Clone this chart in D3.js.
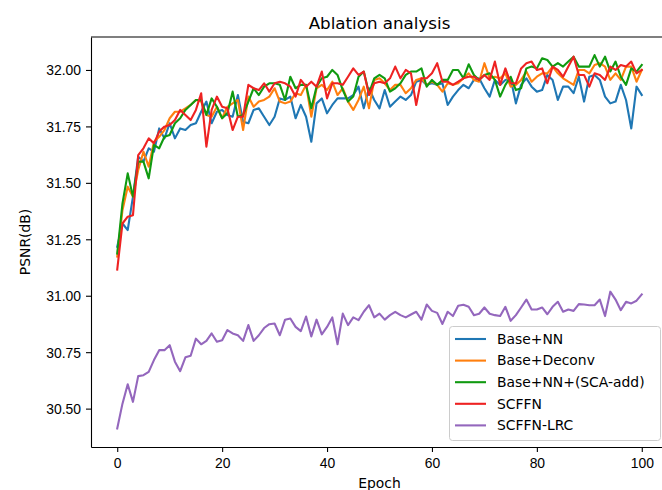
<!doctype html>
<html>
<head>
<meta charset="utf-8">
<title>Ablation analysis</title>
<script src="https://d3js.org/d3.v7.min.js"></script>
<style>
  body { margin: 0; background: #fff; }
  svg { font-family: "DejaVu Sans", sans-serif; }
  .tick text { font-size: 13.9px; fill: #000; }
  .domain, .tick line { stroke: #000; stroke-width: 1.1px; }
</style>
</head>
<body>
<svg width="662" height="490"></svg>
<script>
// epochs 0..100
var epochs = d3.range(0, 101);

var baseNN = [
  31.217, 31.320, 31.291, 31.439, 31.616, 31.594, 31.653, 31.638, 31.741, 31.697,
  31.764, 31.697, 31.741, 31.734, 31.756, 31.764, 31.815, 31.860, 31.764, 31.815,
  31.823, 31.801, 31.793, 31.889, 31.771, 31.764, 31.823, 31.830, 31.793, 31.756,
  31.793, 31.874, 31.867, 31.882, 31.786, 31.845, 31.793, 31.682, 31.852, 31.874,
  31.808, 31.845, 31.874, 31.874, 31.874, 31.889, 31.926, 31.830, 31.919, 31.867,
  31.830, 31.911, 31.837, 31.860, 31.882, 31.867, 31.889, 31.948, 31.956, 31.934,
  31.941, 31.934, 31.941, 31.845, 31.882, 31.911, 31.934, 31.919, 31.956, 31.963,
  31.919, 31.882, 31.956, 31.934, 31.956, 31.963, 31.852, 31.934, 31.963, 31.926,
  31.904, 31.911, 31.978, 31.956, 31.867, 31.926, 31.926, 31.897, 31.970, 31.860,
  31.970, 31.978, 31.956, 31.882, 31.852, 31.860, 31.934, 31.867, 31.741, 31.926,
  31.889
];

var baseDeconv = [
  31.173, 31.379, 31.483, 31.439, 31.557, 31.638, 31.572, 31.682, 31.704, 31.734,
  31.786, 31.815, 31.815, 31.830, 31.845, 31.867, 31.860, 31.801, 31.793, 31.837,
  31.786, 31.837, 31.852, 31.867, 31.734, 31.882, 31.837, 31.860, 31.867, 31.882,
  31.919, 31.860, 31.852, 31.860, 31.897, 31.889, 31.934, 31.793, 31.919, 31.934,
  31.911, 31.948, 31.889, 31.919, 31.860, 31.823, 31.867, 31.926, 31.830, 31.956,
  31.963, 31.941, 31.911, 31.934, 31.934, 31.897, 31.919, 31.956, 31.963, 31.934,
  31.948, 31.934, 31.904, 31.941, 31.934, 31.941, 31.963, 31.985, 31.956, 31.948,
  32.030, 31.963, 31.970, 31.963, 31.985, 31.926, 31.934, 31.956, 31.993, 31.948,
  31.970, 31.985, 31.985, 32.015, 31.985, 31.963, 31.948, 31.934, 32.000, 32.000,
  31.985, 32.022, 32.030, 32.015, 31.956, 31.985, 31.956, 32.015, 32.015, 31.948,
  32.000
];

var baseNNSCA = [
  31.187, 31.409, 31.542, 31.439, 31.594, 31.594, 31.520, 31.668, 31.653, 31.704,
  31.712, 31.764, 31.786, 31.823, 31.845, 31.867, 31.867, 31.801, 31.874, 31.837,
  31.786, 31.808, 31.904, 31.793, 31.801, 31.860, 31.919, 31.889, 31.926, 31.941,
  31.941, 31.934, 31.867, 31.970, 31.919, 31.934, 31.934, 31.830, 31.926, 31.963,
  31.970, 32.000, 31.978, 31.911, 31.860, 31.882, 31.970, 31.993, 31.897, 31.963,
  31.978, 31.963, 31.904, 31.919, 31.941, 31.978, 31.993, 31.993, 32.007, 31.926,
  31.956, 31.934, 31.956, 31.956, 32.000, 32.000, 31.963, 32.025, 31.978, 31.956,
  31.978, 31.985, 31.956, 31.882, 31.934, 31.970, 31.911, 31.919, 32.007, 32.015,
  32.007, 32.052, 32.044, 32.015, 32.030, 32.015, 32.037, 32.059, 32.015, 32.015,
  32.015, 32.066, 32.015, 32.059, 31.993, 32.037, 31.970, 31.934, 32.007, 31.993,
  32.022
];

var scffn = [
  31.116, 31.320, 31.350, 31.357, 31.623, 31.653, 31.697, 31.675, 31.727, 31.749,
  31.756, 31.778, 31.823, 31.801, 31.778, 31.823, 31.897, 31.660, 31.823, 31.882,
  31.837, 31.830, 31.734, 31.793, 31.793, 31.934, 31.919, 31.911, 31.941, 31.904,
  31.941, 31.948, 31.941, 31.926, 31.882, 31.956, 31.926, 31.948, 31.926, 31.993,
  31.874, 31.941, 31.941, 31.934, 31.970, 32.007, 31.978, 31.993, 31.889, 31.941,
  31.948, 31.941, 31.963, 32.015, 31.963, 32.000, 31.985, 31.845, 31.963, 31.963,
  31.985, 32.030, 31.948, 31.948, 31.934, 31.948, 31.963, 31.970, 31.970, 31.956,
  31.978, 31.956, 32.037, 31.934, 32.007, 31.941, 31.941, 32.007, 32.030, 32.037,
  32.000, 32.007, 31.941, 32.015, 32.000, 31.970, 32.015, 32.059, 31.978, 31.978,
  31.926, 31.985, 31.978, 31.956, 32.015, 32.000, 32.022, 32.015, 32.037, 31.985,
  32.000
];

var scffnLRC = [
  30.412, 30.522, 30.608, 30.530, 30.644, 30.648, 30.663, 30.715, 30.759, 30.759,
  30.781, 30.708, 30.666, 30.727, 30.734, 30.810, 30.785, 30.800, 30.833, 30.796,
  30.803, 30.848, 30.833, 30.825, 30.800, 30.870, 30.800, 30.825, 30.857, 30.874,
  30.877, 30.825, 30.894, 30.899, 30.862, 30.843, 30.908, 30.820, 30.894, 30.829,
  30.862, 30.904, 30.785, 30.921, 30.870, 30.904, 30.892, 30.929, 30.958, 30.904,
  30.921, 30.894, 30.914, 30.929, 30.914, 30.904, 30.917, 30.929, 30.894, 30.961,
  30.933, 30.924, 30.875, 30.929, 30.910, 30.956, 30.960, 30.951, 30.914, 30.920,
  30.948, 30.920, 30.914, 30.910, 30.951, 30.889, 30.914, 30.948, 30.983, 30.939,
  30.939, 30.948, 30.918, 30.951, 30.973, 30.929, 30.939, 30.933, 30.963, 30.961,
  30.958, 30.958, 30.983, 30.910, 31.018, 30.983, 30.936, 30.973, 30.966, 30.978,
  31.006
];

var seriesNames = ["Base+NN", "Base+Deconv", "Base+NN+(SCA-add)", "SCFFN", "SCFFN-LRC"];
var seriesValues = [baseNN, baseDeconv, baseNNSCA, scffn, scffnLRC];
var colors = ["#1f77b4", "#ff7f0e", "#109a10", "#ee2222", "#9467bd"];

var xTicks = [0, 20, 40, 60, 80, 100];
var yTicks = [30.50, 30.75, 31.00, 31.25, 31.50, 31.75, 32.00];

var svg = d3.select("svg"),
    plotLeft = 91, plotTop = 37, plotRight = 668, plotBottom = 447;

var x = d3.scaleLinear().domain([-5, 105]).range([plotLeft, plotRight]);
var y = d3.scaleLinear().domain([30.33, 32.146]).range([plotBottom, plotTop]);

// title
svg.append("text")
    .attr("x", (plotLeft + plotRight) / 2).attr("y", plotTop - 8)
    .attr("text-anchor", "middle")
    .style("font-size", "16.7px")
    .text("Ablation analysis");

// lines
var line = d3.line()
    .x(function(d, i) { return x(epochs[i]); })
    .y(function(d) { return y(d); });

seriesValues.forEach(function(vals, k) {
    svg.append("path")
        .datum(vals)
        .attr("fill", "none")
        .attr("stroke", colors[k])
        .attr("stroke-width", 2.1)
        .attr("stroke-linejoin", "round")
        .attr("stroke-linecap", "square")
        .attr("d", line);
});

// axes
svg.append("g")
    .attr("transform", "translate(0," + plotBottom + ")")
    .call(d3.axisBottom(x).tickValues(xTicks).tickSize(5).tickPadding(5).tickSizeOuter(0))
    .call(function(g) { g.selectAll(".tick text").attr("dy", "0.8em"); });

svg.append("g")
    .attr("transform", "translate(" + plotLeft + ",0)")
    .call(d3.axisLeft(y).tickValues(yTicks).tickFormat(d3.format(".2f")).tickSize(5).tickPadding(5).tickSizeOuter(0))
    .call(function(g) { g.selectAll(".tick text").attr("dy", "0.35em"); });

// spines
svg.append("line").attr("x1", plotLeft).attr("x2", plotRight).attr("y1", plotTop).attr("y2", plotTop)
    .attr("stroke", "#000").attr("stroke-width", 1.1);
svg.append("line").attr("x1", plotRight).attr("x2", plotRight).attr("y1", plotTop).attr("y2", plotBottom)
    .attr("stroke", "#000").attr("stroke-width", 1.1);

// axis labels
svg.append("text")
    .attr("x", (plotLeft + plotRight) / 2).attr("y", 488)
    .attr("text-anchor", "middle")
    .style("font-size", "13.9px")
    .text("Epoch");

svg.append("text")
    .attr("transform", "translate(30," + (plotTop + plotBottom) / 2 + ") rotate(-90)")
    .attr("text-anchor", "middle")
    .style("font-size", "13.9px")
    .text("PSNR(dB)");

// legend
var legend = svg.append("g");
legend.append("rect")
    .attr("x", 449.5).attr("y", 326.5).attr("width", 211).attr("height", 114)
    .attr("rx", 3)
    .attr("fill", "#fff").attr("fill-opacity", 0.8)
    .attr("stroke", "#cccccc").attr("stroke-width", 1);

seriesNames.forEach(function(name, k) {
    var ly = 339 + k * 21.6;
    legend.append("line")
        .attr("x1", 455).attr("x2", 486).attr("y1", ly).attr("y2", ly)
        .attr("stroke", colors[k]).attr("stroke-width", 2.1);
    legend.append("text")
        .attr("x", 497).attr("y", ly).attr("dy", "0.35em")
        .style("font-size", "13.9px")
        .text(name);
});
</script>
</body>
</html>
